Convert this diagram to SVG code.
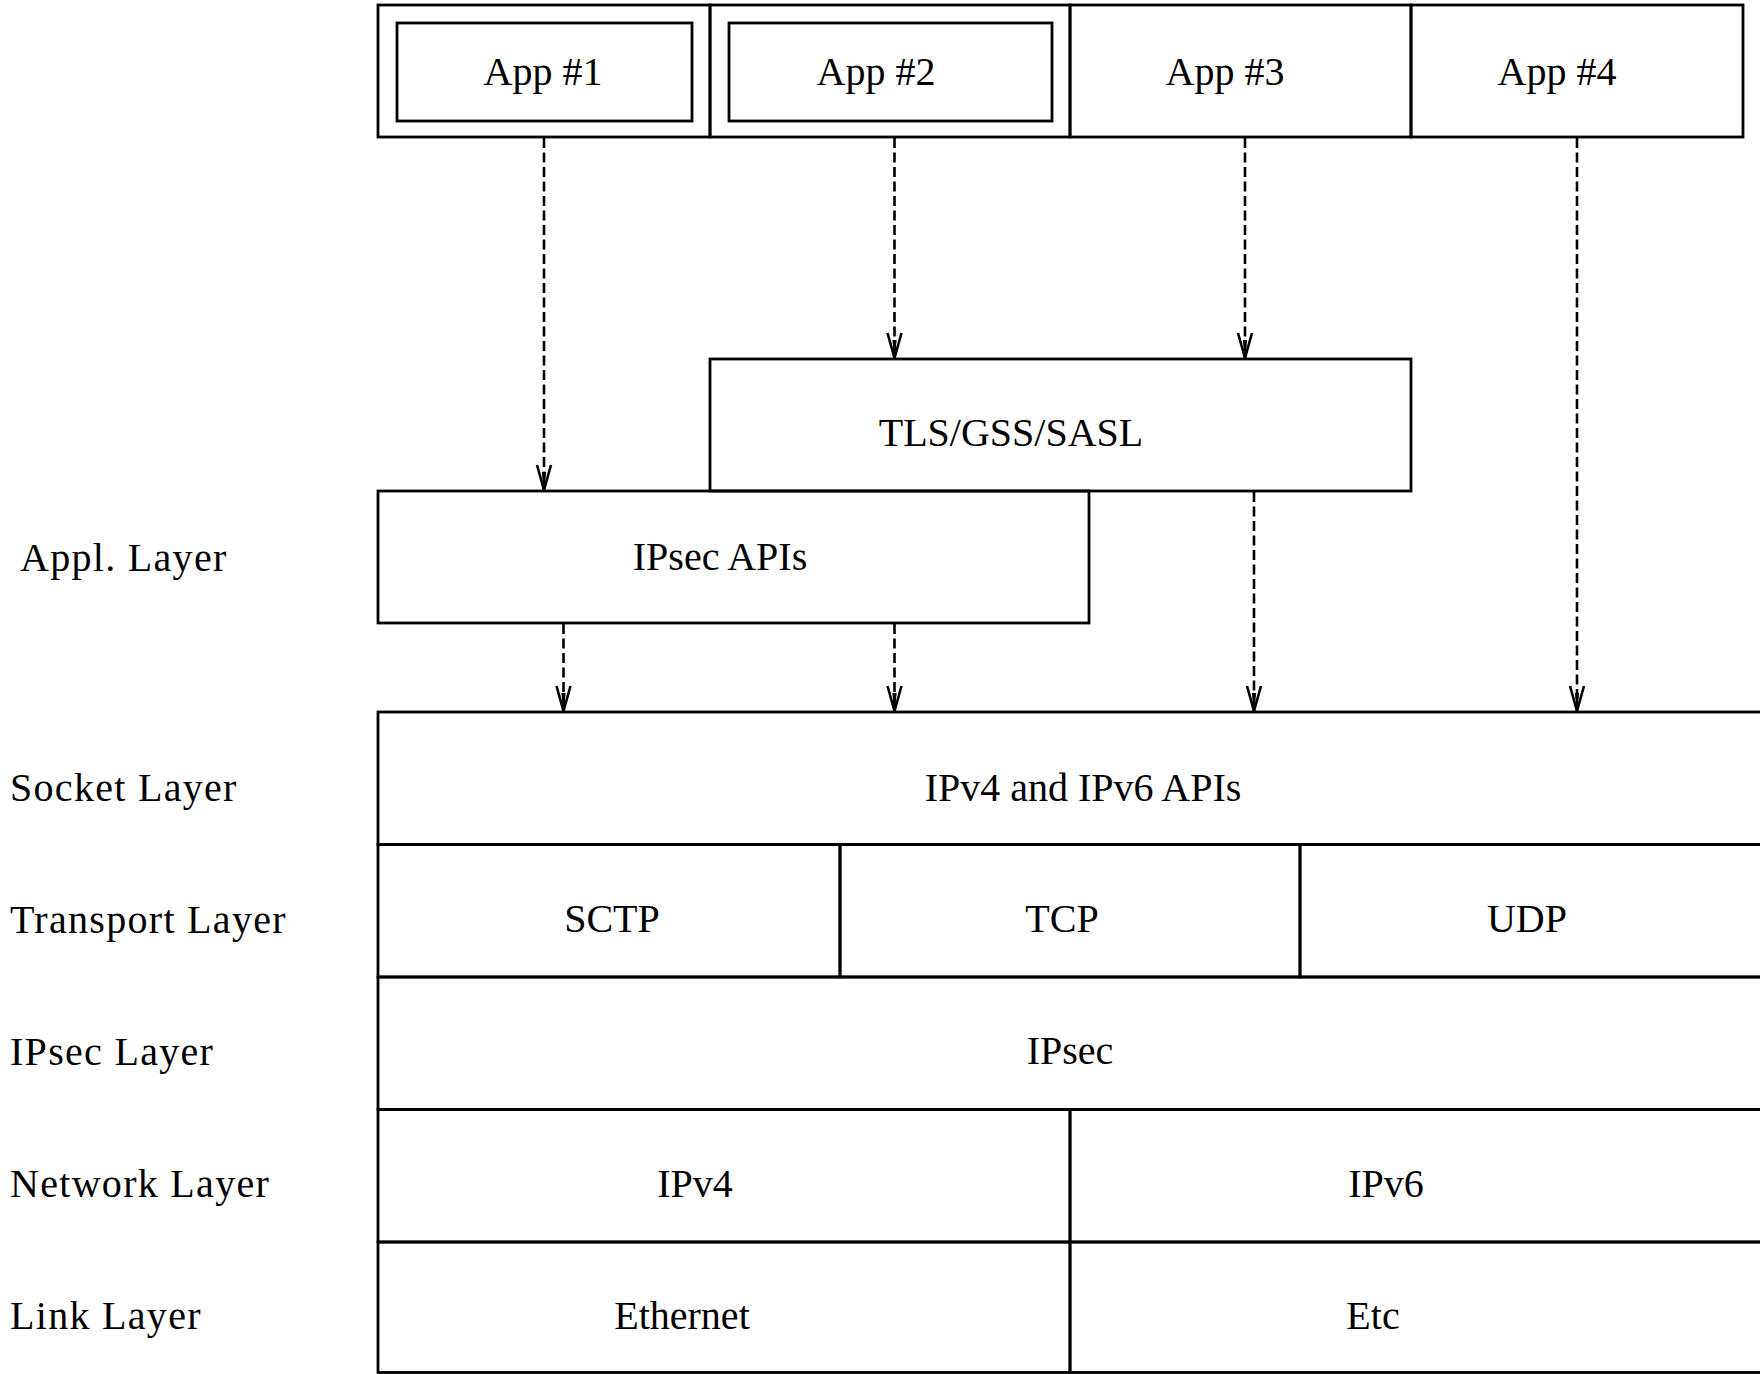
<svg xmlns="http://www.w3.org/2000/svg" width="1760" height="1374" viewBox="0 0 1760 1374">
<style>
.box{fill:none;stroke:#000;stroke-width:2.8}
.t{font-family:"Liberation Serif","Times New Roman",serif;font-size:40px;fill:#000;text-anchor:middle}
.lbl{font-family:"Liberation Serif","Times New Roman",serif;font-size:40px;fill:#000;letter-spacing:1.3px}
.arr{fill:none;stroke:#000;stroke-width:2.6;stroke-dasharray:10 4.5;marker-end:url(#ah)}
</style>
<defs>
<marker id="ah" markerUnits="userSpaceOnUse" markerWidth="30" markerHeight="20" refX="0" refY="0" orient="auto" viewBox="-28 -10 30 20">
<path d="M-25,-7 L0,0 L-25,7" fill="none" stroke="#000" stroke-width="2.6"/>
<path d="M-18,-2.2 L0,0 L-18,2.2 Z" fill="#000"/>
</marker>
</defs>
<rect width="1760" height="1374" fill="#fff"/>

<g id="labels">
<text class="lbl" x="20" y="571">Appl. Layer</text>
<text class="lbl" x="10" y="801">Socket Layer</text>
<text class="lbl" x="10" y="933">Transport Layer</text>
<text class="lbl" x="10" y="1065">IPsec Layer</text>
<text class="lbl" x="10" y="1197">Network Layer</text>
<text class="lbl" x="10" y="1329">Link Layer</text>
</g>

<g id="app1">
<rect class="box" x="378" y="5" width="332" height="132"/>
<rect class="box" x="397" y="23" width="295" height="98"/>
<text class="t" x="543" y="85">App #1</text>
</g>
<g id="app2">
<rect class="box" x="710" y="5" width="360" height="132"/>
<rect class="box" x="729" y="23" width="323" height="98"/>
<text class="t" x="876" y="85">App #2</text>
</g>
<g id="app3">
<rect class="box" x="1070" y="5" width="341" height="132"/>
<text class="t" x="1225" y="85">App #3</text>
</g>
<g id="app4">
<rect class="box" x="1411" y="5" width="332" height="132"/>
<text class="t" x="1557" y="85">App #4</text>
</g>

<g id="tls">
<rect class="box" x="710" y="359" width="701" height="132"/>
<text class="t" x="1011" y="446">TLS/GSS/SASL</text>
</g>
<g id="ipsecapis">
<rect class="box" x="378" y="491" width="711" height="132"/>
<text class="t" x="720" y="570">IPsec APIs</text>
</g>

<g id="sockets">
<rect class="box" x="378" y="712" width="1390" height="132.5"/>
<text class="t" x="1083" y="801">IPv4 and IPv6 APIs</text>
</g>
<g id="sctp">
<rect class="box" x="378" y="844.5" width="462" height="132.5"/>
<text class="t" x="612" y="932">SCTP</text>
</g>
<g id="tcp">
<rect class="box" x="840" y="844.5" width="460" height="132.5"/>
<text class="t" x="1062" y="932">TCP</text>
</g>
<g id="udp">
<rect class="box" x="1300" y="844.5" width="468" height="132.5"/>
<text class="t" x="1527" y="932">UDP</text>
</g>
<g id="ipsec">
<rect class="box" x="378" y="977" width="1390" height="132.5"/>
<text class="t" x="1070" y="1064">IPsec</text>
</g>
<g id="ipv4">
<rect class="box" x="378" y="1109.5" width="692" height="132.5"/>
<text class="t" x="695" y="1197">IPv4</text>
</g>
<g id="ipv6">
<rect class="box" x="1070" y="1109.5" width="698" height="132.5"/>
<text class="t" x="1386" y="1197">IPv6</text>
</g>
<g id="ethernet">
<rect class="box" x="378" y="1242" width="692" height="130.5"/>
<text class="t" x="682" y="1329">Ethernet</text>
</g>
<g id="etc">
<rect class="box" x="1070" y="1242" width="698" height="130.5"/>
<text class="t" x="1373" y="1329">Etc</text>
</g>

<g id="connectors">
<line class="arr" x1="544" y1="138" x2="544" y2="490"/>
<line class="arr" x1="894.5" y1="138" x2="894.5" y2="358"/>
<line class="arr" x1="1245" y1="138" x2="1245" y2="358"/>
<line class="arr" x1="1577" y1="138" x2="1577" y2="711"/>
<line class="arr" x1="563.5" y1="624" x2="563.5" y2="711"/>
<line class="arr" x1="894.5" y1="624" x2="894.5" y2="711"/>
<line class="arr" x1="1254" y1="492" x2="1254" y2="711"/>
</g>
</svg>
